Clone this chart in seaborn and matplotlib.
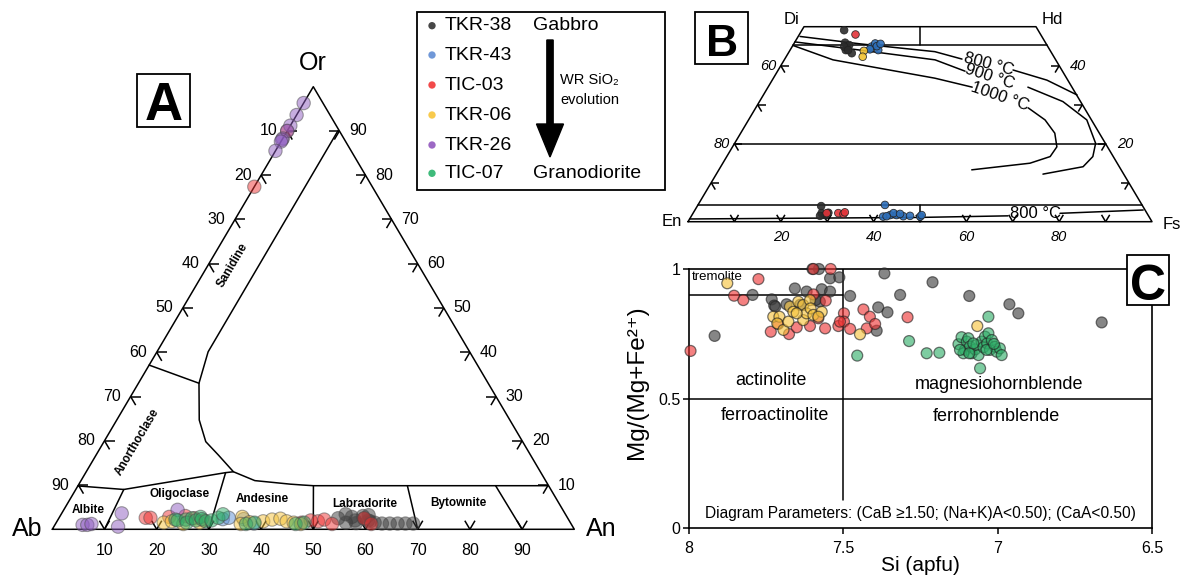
import matplotlib
matplotlib.use("Agg")
import numpy as np
import pandas as pd
import matplotlib.pyplot as plt
from matplotlib.patches import Rectangle, FancyArrow
import seaborn as sns

sns.set_style("white")
plt.rcParams["font.family"] = ["Liberation Sans", "DejaVu Sans"]
plt.rcParams["axes.unicode_minus"] = False
for key in ("text.color", "axes.labelcolor", "xtick.color", "ytick.color"):
    plt.rcParams[key] = "black"

FIG_W, FIG_H = 1181, 576

# ---------------------------------------------------------------- samples
samples = ["TKR-38", "TKR-43", "TIC-03", "TKR-06", "TKR-26", "TIC-07"]
rock_top = "Gabbro"
rock_bottom = "Granodiorite"
key_colors = ["#474747", "#7098d8", "#f24a4a", "#f8ca4c", "#9c68c4", "#3fbb7b"]
mark_colors = ["#3c3c3c", "#5b8fd4", "#ee3434", "#f6c33a", "#8e5cc0", "#2fae68"]
pyx_colors = ["#2c2c2c", "#2d6eb8", "#e3343a", "#f1c232", "#8e5cc0", "#2fae68"]

# ---------------------------------------------------------------- A: feldspar (mol% An, mol% Or)
fsp_tkr38_an = [53.5, 54.5, 55.5, 56.0, 57.0, 57.5, 58.0, 58.5, 59.0, 59.5, 60.0, 61.0, 62.5, 64.0, 65.5, 67.0, 68.5]
fsp_tkr38_or = [2.5, 3.4, 1.5, 2.8, 2.0, 1.4, 3.0, 2.4, 3.2, 2.0, 1.8, 1.5, 1.3, 1.3, 1.3, 1.3, 1.3]
fsp_tkr43_an = [31.5, 32.5, 35.5, 38.0]
fsp_tkr43_or = [2.3, 2.6, 2.3, 1.3]
fsp_tic03_an = [0.0, 0.0, 16.6, 17.5, 21.0, 24.0, 26.0, 28.0, 47.0, 48.5, 50.0, 51.0, 53.0, 58.5, 60.5]
fsp_tic03_or = [90.0, 77.4, 2.6, 2.6, 2.8, 3.0, 2.5, 2.0, 1.5, 2.0, 1.8, 2.2, 1.2, 2.5, 1.2]
fsp_tkr06_an = [20.6, 22.0, 24.5, 27.5, 35.0, 35.5, 37.0, 39.5, 41.0, 42.5, 44.0, 45.5, 47.0]
fsp_tkr06_or = [1.5, 1.8, 1.2, 1.5, 2.8, 1.2, 1.6, 1.8, 2.2, 2.4, 1.8, 1.5, 1.2]
fsp_tkr26_an = [0.0, 0.0, 0.0, 0.0, 0.0, 0.0, 0.0, 0.0, 5.3, 6.2, 6.9, 12.3, 11.5, 21.8]
fsp_tkr26_or = [96.3, 93.6, 91.2, 90.0, 88.3, 88.0, 87.6, 85.5, 1.0, 1.0, 1.2, 0.6, 3.6, 4.4]
fsp_tic07_an = [22.5, 23.0, 24.5, 25.0, 25.5, 26.5, 27.0, 27.5, 28.5, 29.5, 30.5, 31.0, 36.5, 38.0, 46.0, 47.5]
fsp_tic07_or = [2.2, 2.0, 2.2, 1.5, 2.5, 2.0, 2.8, 2.3, 1.8, 2.0, 2.6, 3.4, 1.2, 1.5, 1.2, 1.5]

# feldspar field boundaries (mol% An, mol% Or)
fld_top_an = [0.0, 9.2, 26.8, 28.2, 33.3, 40.5, 43.0, 45.1, 90.1]
fld_top_or = [9.8, 9.0, 12.8, 13.0, 11.0, 10.2, 10.0, 9.85, 9.85]
fld_anc_an = [28.2, 23.4, 19.5, 15.8, 11.6, 9.8, 9.7]
fld_anc_or = [13.0, 16.8, 19.8, 24.7, 33.0, 40.1, 90.0]
fld_san_an = [0.0, 11.6]
fld_san_or = [37.1, 33.0]
fld_cuts_base = [10, 30, 50, 70, 90]
fld_cuts_top_an = [9.2, 26.8, 45.1, 63.1, 80.0]
fld_cuts_top_or = [9.0, 12.8, 9.85, 9.85, 9.85]
fld_names = ["Sanidine", "Anorthoclase", "Albite", "Oligoclase", "Andesine", "Labradorite", "Bytownite"]
fld_name_an = [4.75, 6.3, 4.7, 20.3, 36.7, 57.0, 74.9]
fld_name_or = [59.7, 19.8, 4.4, 8.0, 6.9, 5.7, 5.9]
fld_name_rot = [59.5, 59.5, 0, 0, 0, 0, 0]

# ---------------------------------------------------------------- B: pyroxene (mol% Wo, mol% Fs)
pyx_tkr38_wo = [49.1, 45.9, 44.9, 44.0, 43.2, 45.3, 44.9, 44.0, 4.0, 2.2, 1.7, 1.5, 2.3]
pyx_tkr38_fs = [9.1, 10.9, 11.8, 12.0, 13.7, 12.1, 11.2, 12.5, 26.7, 27.7, 28.7, 27.7, 29.1]
pyx_tkr43_wo = [44.9, 45.7, 44.0, 44.2, 45.0, 45.6, 4.3, 1.3, 1.7, 1.7, 1.4, 1.5, 1.3, 1.7, 2.2, 2.0, 1.4]
pyx_tkr43_fs = [17.1, 17.5, 19.0, 17.1, 18.2, 18.7, 40.3, 41.4, 42.7, 44.1, 45.7, 47.1, 49.4, 49.5, 43.2, 44.7, 42.1]
pyx_tic03_wo = [48.0, 2.2, 2.2, 2.0, 2.4]
pyx_tic03_fs = [12.1, 28.8, 31.3, 32.5, 32.6]
pyx_tkr06_wo = [43.8, 42.3]
pyx_tkr06_fs = [16.0, 16.5]

# two-pyroxene isotherms (mol% Wo, mol% Fs); each split where its label sits
iso800_wo = [[47.5, 45.6, 43.6, 41.7], [38.9, 36.3, 32.5]]
iso800_fs = [[0.4, 14.3, 31.4, 38.2], [50.6, 59.2, 67.6]]
iso900_wo = [[46.1, 44.0, 41.5, 38.6], [34.5, 30.8, 26.1, 20.1, 16.7, 14.1, 12.2]]
iso900_fs = [[0.0, 15.1, 32.5, 40.4], [56.0, 65.4, 72.9, 77.8, 78.9, 78.1, 70.4]]
iso1000_wo = [[45.2, 41.5, 36.8, 34.5], [29.2, 26.1, 22.7, 19.2, 16.7, 15.0, 13.3]]
iso1000_fs = [[0.0, 10.5, 34.8, 44.0], [58.7, 63.9, 67.7, 69.9, 69.7, 66.2, 54.5]]
iso800low_wo = [[0.7, 1.1, 1.5], [2.15, 3.0]]
iso800low_fs = [[0.0, 49.5, 68.2], [79.1, 96.6]]
pyx_wo_lines = [45.3, 20.0, 4.4]

# ---------------------------------------------------------------- C: amphibole (Si apfu, Mg/(Mg+Fe2+))
amp_tkr38_si = [7.917, 7.794, 7.732, 7.724, 7.720, 7.684, 7.657, 7.619, 7.579, 7.600, 7.543, 7.513, 7.570,
                7.543, 7.576, 7.478, 7.387, 7.357, 7.392, 7.367, 7.316, 7.211, 7.092, 6.962, 6.933, 6.663,
                7.640, 7.590]
amp_tkr38_mg = [0.742, 0.900, 0.883, 0.859, 0.855, 0.864, 0.925, 0.913, 1.000, 1.000, 0.964, 0.968, 0.922,
                0.913, 0.874, 0.896, 0.852, 0.833, 0.762, 0.983, 0.900, 0.949, 0.896, 0.864, 0.829, 0.794,
                0.862, 0.880]
amp_tic03_si = [7.995, 7.775, 7.854, 7.824, 7.735, 7.676, 7.597, 7.541, 7.597, 7.651, 7.608, 7.559, 7.557,
                7.581, 7.516, 7.498, 7.498, 7.511, 7.478, 7.435, 7.424, 7.414, 7.397, 7.292, 7.711]
amp_tic03_mg = [0.684, 0.961, 0.897, 0.880, 0.758, 0.749, 1.000, 1.000, 0.902, 0.775, 0.780, 0.771, 0.878,
                0.810, 0.780, 0.829, 0.797, 0.797, 0.769, 0.844, 0.771, 0.816, 0.788, 0.814, 0.788]
amp_tkr06_si = [7.876, 7.727, 7.707, 7.714, 7.694, 7.678, 7.673, 7.662, 7.646, 7.630, 7.630, 7.619, 7.608,
                7.606, 7.597, 7.570, 7.581, 7.651, 7.446, 7.066]
amp_tkr06_mg = [0.945, 0.816, 0.816, 0.790, 0.765, 0.797, 0.855, 0.835, 0.874, 0.861, 0.803, 0.829, 0.880,
                0.848, 0.823, 0.835, 0.816, 0.829, 0.748, 0.780]
amp_tic07_si = [7.455, 7.287, 7.230, 7.189, 7.030, 7.057, 7.127, 7.117, 7.106, 7.100, 7.095, 7.090, 7.084,
                7.073, 7.068, 7.062, 7.052, 7.046, 7.041, 7.034, 7.030, 7.025, 7.019, 7.009, 7.003, 6.993,
                6.987, 7.111, 7.122, 7.092, 7.079, 7.036, 7.012]
amp_tic07_mg = [0.666, 0.722, 0.675, 0.677, 0.816, 0.617, 0.710, 0.737, 0.688, 0.720, 0.733, 0.701, 0.675,
                0.690, 0.707, 0.668, 0.720, 0.698, 0.739, 0.713, 0.752, 0.688, 0.726, 0.700, 0.681, 0.694,
                0.668, 0.675, 0.688, 0.675, 0.713, 0.688, 0.711]
amp_names = ["tremolite", "actinolite", "ferroactinolite", "magnesiohornblende", "ferrohornblende"]
amp_name_si = [7.990, 7.734, 7.721, 6.996, 7.003]
amp_name_mg = [0.970, 0.569, 0.434, 0.556, 0.430]
amp_note = "Diagram Parameters: (CaB \u22651.50; (Na+K)A<0.50); (CaA<0.50)"

LW = 1.1
fig = plt.figure(figsize=(FIG_W / 100, FIG_H / 100), dpi=100)


def frame(l, t, r, b):
    return [l / FIG_W, 1 - b / FIG_H, (r - l) / FIG_W, (b - t) / FIG_H]


def stubs(ax, u, v, dirs, length, sx, sy):
    for dx, dy in dirs:
        ax.plot([u, u + dx * length / sx], [v, v + dy * length / sy],
                color="black", lw=LW, clip_on=False, solid_capstyle="butt")


# ================================================================ panel A
axA = fig.add_axes(frame(52.3, 86.7, 574.3, 529.3))
SXA, SYA = 522.0, 442.6


def tern_a(an, orr):
    an = np.asarray(an, float) / 100
    orr = np.asarray(orr, float) / 100
    return an + orr / 2, orr


def line_a(an, orr):
    u, v = tern_a(an, orr)
    axA.plot(u, v, color="black", lw=LW, clip_on=False)


line_a([0, 100, 0, 0], [0, 0, 100, 0])
line_a(fld_top_an, fld_top_or)
line_a(fld_anc_an, fld_anc_or)
line_a(fld_san_an, fld_san_or)
for b, ta, to in zip(fld_cuts_base, fld_cuts_top_an, fld_cuts_top_or):
    line_a([b, ta], [0, to])

for k in range(10, 100, 10):
    u, v = tern_a(0, 100 - k)
    stubs(axA, u, v, [(1, 0), (0.508, -0.8615)], 10, SXA, SYA)
    axA.annotate(str(k), (u, v), xytext=(-7, 0), textcoords="offset points",
                 ha="right", va="center", fontsize=11.5)
    u, v = tern_a(100 - k, k)
    stubs(axA, u, v, [(-1, 0), (-0.508, -0.8615)], 10, SXA, SYA)
    axA.annotate(str(k), (u, v), xytext=(7, 0), textcoords="offset points",
                 ha="left", va="center", fontsize=11.5)
    u, v = tern_a(k, 0)
    stubs(axA, u, v, [(-0.508, 0.8615), (0.508, 0.8615)], 10, SXA, SYA)
    axA.annotate(str(k), (u, v), xytext=(0, -15), textcoords="offset points",
                 ha="center", va="center", fontsize=11.5)

for name, an, orr, rot in zip(fld_names, fld_name_an, fld_name_or, fld_name_rot):
    u, v = tern_a(an, orr)
    axA.text(u, v, name, ha="center", va="center", rotation=rot, rotation_mode="anchor",
             fontsize=8.5, fontweight="bold")

for lab, an, orr, dx, dy in [("Ab", 0, 0, -18.4, 0), ("An", 100, 0, 19.7, 0), ("Or", 0, 100, 0, 16.8)]:
    u, v = tern_a(an, orr)
    axA.annotate(lab, (u, v), xytext=(dx, dy), textcoords="offset points",
                 ha="center", va="center", fontsize=18)

fsp_sets = [(fsp_tkr38_an, fsp_tkr38_or), (fsp_tkr43_an, fsp_tkr43_or), (fsp_tic03_an, fsp_tic03_or),
            (fsp_tkr06_an, fsp_tkr06_or), (fsp_tkr26_an, fsp_tkr26_or), (fsp_tic07_an, fsp_tic07_or)]
rows = []
for name, (an, orr) in zip(samples, fsp_sets):
    u, v = tern_a(an, orr)
    rows += [dict(sample=name, u=a, v=b) for a, b in zip(u, v)]
dfA = pd.DataFrame(rows)
sns.scatterplot(data=dfA, x="u", y="v", hue="sample", palette=dict(zip(samples, mark_colors)),
                s=92, alpha=0.5, edgecolor="#4a4a4a", linewidth=0.8, legend=False, ax=axA, zorder=5)
axA.set_xlim(0, 1)
axA.set_ylim(0, 1)
axA.axis("off")
for c in axA.collections:
    c.set_clip_on(False)

# ================================================================ panel B
axB = fig.add_axes(frame(688, 26.7, 1152, 221.7))
SXB, SYB = 464.0, 390.0


def tern_b(wo, fs):
    wo = np.asarray(wo, float) / 100
    fs = np.asarray(fs, float) / 100
    return fs + wo / 2, wo


def line_b(wo, fs):
    u, v = tern_b(wo, fs)
    axB.plot(u, v, color="black", lw=LW, clip_on=False)


line_b([0, 0, 50, 50, 0], [0, 100, 50, 0, 0])
for w in pyx_wo_lines:
    line_b([w, w], [0, 100 - w])
line_b([50, 45.3], [25, 27.35])
line_b([0, 4.4], [50, 47.8])
for segs_w, segs_f in [(iso800_wo, iso800_fs), (iso900_wo, iso900_fs),
                       (iso1000_wo, iso1000_fs), (iso800low_wo, iso800low_fs)]:
    for w, f in zip(segs_w, segs_f):
        line_b(w, f)

for lab, u, v, rot in [("800 \u00b0C", 0.649, 0.403, -15), ("900 \u00b0C", 0.651, 0.372, -18),
                       ("1000 \u00b0C", 0.673, 0.322, -19), ("800 \u00b0C", 0.75, 0.0215, 0)]:
    axB.text(u, v, lab, ha="center", va="center", rotation=rot, rotation_mode="anchor", fontsize=12)

for k in range(10, 50, 10):
    u, v = tern_b(k, 0)
    stubs(axB, u, v, [(1, 0), (0.509, -0.861)], 8, SXB, SYB)
    u, v = tern_b(k, 100 - k)
    stubs(axB, u, v, [(-1, 0), (-0.5145, -0.8575)], 8, SXB, SYB)
for k in range(10, 100, 10):
    u, v = tern_b(0, k)
    stubs(axB, u, v, [(-0.509, 0.861), (0.5145, 0.8575)], 8, SXB, SYB)
for k in (20, 40):
    u, v = tern_b(k, 0)
    axB.annotate(str(100 - k), (u, v), xytext=(-3, 0), textcoords="offset points",
                 ha="right", va="center", fontsize=10.5, style="italic")
    u, v = tern_b(k, 100 - k)
    axB.annotate(str(k), (u, v), xytext=(8, 0), textcoords="offset points",
                 ha="left", va="center", fontsize=10.5, style="italic")
for k in (20, 40, 60, 80):
    u, v = tern_b(0, k)
    axB.annotate(str(k), (u, v), xytext=(0, -11), textcoords="offset points",
                 ha="center", va="center", fontsize=10.5, style="italic")
for lab, w, f, dx, dy in [("Di", 50, 0, -9, 5), ("Hd", 50, 50, 12, 5), ("En", 0, 0, -12, 0), ("Fs", 0, 100, 14, -2)]:
    u, v = tern_b(w, f)
    axB.annotate(lab, (u, v), xytext=(dx, dy), textcoords="offset points",
                 ha="center", va="center", fontsize=12)

pyx_sets = [("TKR-38", pyx_tkr38_wo, pyx_tkr38_fs), ("TIC-03", pyx_tic03_wo, pyx_tic03_fs),
            ("TKR-43", pyx_tkr43_wo, pyx_tkr43_fs), ("TKR-06", pyx_tkr06_wo, pyx_tkr06_fs)]
rows = []
for name, wo, fs in pyx_sets:
    u, v = tern_b(wo, fs)
    rows += [dict(sample=name, u=a, v=b) for a, b in zip(u, v)]
dfB = pd.DataFrame(rows)
sns.scatterplot(data=dfB, x="u", y="v", hue="sample", palette=dict(zip(samples, pyx_colors)),
                s=30, alpha=0.9, edgecolor="#222222", linewidth=0.6, legend=False, ax=axB, zorder=5)
axB.set_xlim(0, 1)
axB.set_ylim(0, 0.5)
axB.axis("off")
for c in axB.collections:
    c.set_clip_on(False)

# ================================================================ panel C
axC = fig.add_axes(frame(689, 269, 1152, 528.3))
amp_sets = [("TKR-38", amp_tkr38_si, amp_tkr38_mg), ("TIC-03", amp_tic03_si, amp_tic03_mg),
            ("TKR-06", amp_tkr06_si, amp_tkr06_mg), ("TIC-07", amp_tic07_si, amp_tic07_mg)]
rows = []
for name, si, mg in amp_sets:
    rows += [dict(sample=name, si=a, mg=b) for a, b in zip(si, mg)]
dfC = pd.DataFrame(rows)
axC.axhline(0.5, color="black", lw=LW)
axC.plot([7.5, 7.5], [0.11, 1.0], color="black", lw=LW)
axC.plot([8.0, 7.5], [0.9, 0.9], color="black", lw=LW)
sns.scatterplot(data=dfC, x="si", y="mg", hue="sample", palette=dict(zip(samples, mark_colors)),
                s=62, alpha=0.62, edgecolor="#222222", linewidth=0.9, legend=False, ax=axC, zorder=5)
for c in axC.collections:
    c.set_clip_on(False)
axC.set_xlim(8, 6.5)
axC.set_ylim(0, 1)
axC.set_xticks([8, 7.5, 7, 6.5])
axC.set_xticklabels(["8", "7.5", "7", "6.5"])
axC.set_yticks([0, 0.5, 1])
axC.set_yticklabels(["0", "0.5", "1"])
axC.tick_params(bottom=True, left=True, direction="out", length=4, width=1.1,
                labelsize=11.5, color="black", pad=2)
axC.tick_params(axis="x", pad=5)
for s in axC.spines.values():
    s.set_visible(True)
    s.set_color("black")
    s.set_linewidth(1.2)
axC.set_xlabel("Si (apfu)", fontsize=15, labelpad=0)
axC.set_ylabel("Mg/(Mg+Fe\u00b2\u207a)", fontsize=17.5)
axC.yaxis.set_label_coords(-0.088, 0.565)
for name, si, mg in zip(amp_names, amp_name_si, amp_name_mg):
    if name == "tremolite":
        axC.text(si, mg, name, ha="left", va="center", fontsize=9.5)
    else:
        axC.text(si, mg, name, ha="center", va="center", fontsize=13)
axC.text(7.948, 0.058, amp_note, ha="left", va="center", fontsize=11.2)

# ================================================================ overlay: key and panel tags
ov = fig.add_axes([0, 0, 1, 1], zorder=20)
ov.set_xlim(0, FIG_W)
ov.set_ylim(FIG_H, 0)
ov.axis("off")

for lab, (l, t, r, b), base, fs in [("A", (137, 74, 190, 127), 120.5, 38),
                                     ("B", (695, 11.7, 748.3, 64), 55.5, 32),
                                     ("C", (1126.7, 255, 1169.3, 305), 300, 36)]:
    ov.add_patch(Rectangle((l, t), r - l, b - t, fc="white", ec="black", lw=1.3))
    ov.text((l + r) / 2, base, lab, ha="center", va="baseline", fontsize=fs, fontweight="bold")

ov.add_patch(Rectangle((417, 12), 248, 178, fc="white", ec="black", lw=1.3))
key_y = [25.7, 55, 85, 115, 145, 173.3]
for name, col, y in zip(samples, key_colors, key_y):
    ov.scatter([432], [y], s=28, color=col, edgecolor="none")
    ov.text(445, y, name, ha="left", va="center", fontsize=14)
ov.text(533, key_y[0], rock_top, ha="left", va="center", fontsize=14)
ov.text(533, key_y[-1], rock_bottom, ha="left", va="center", fontsize=14)
ov.text(560, 80, "WR SiO\u2082", ha="left", va="center", fontsize=10.5)
ov.text(560, 100, "evolution", ha="left", va="center", fontsize=10.5)
ov.add_patch(FancyArrow(550, 40, 0, 117, width=6.3, head_width=27, head_length=33,
                        length_includes_head=True, fc="black", ec="black"))

fig.savefig("out.png", dpi=100, facecolor="white")
